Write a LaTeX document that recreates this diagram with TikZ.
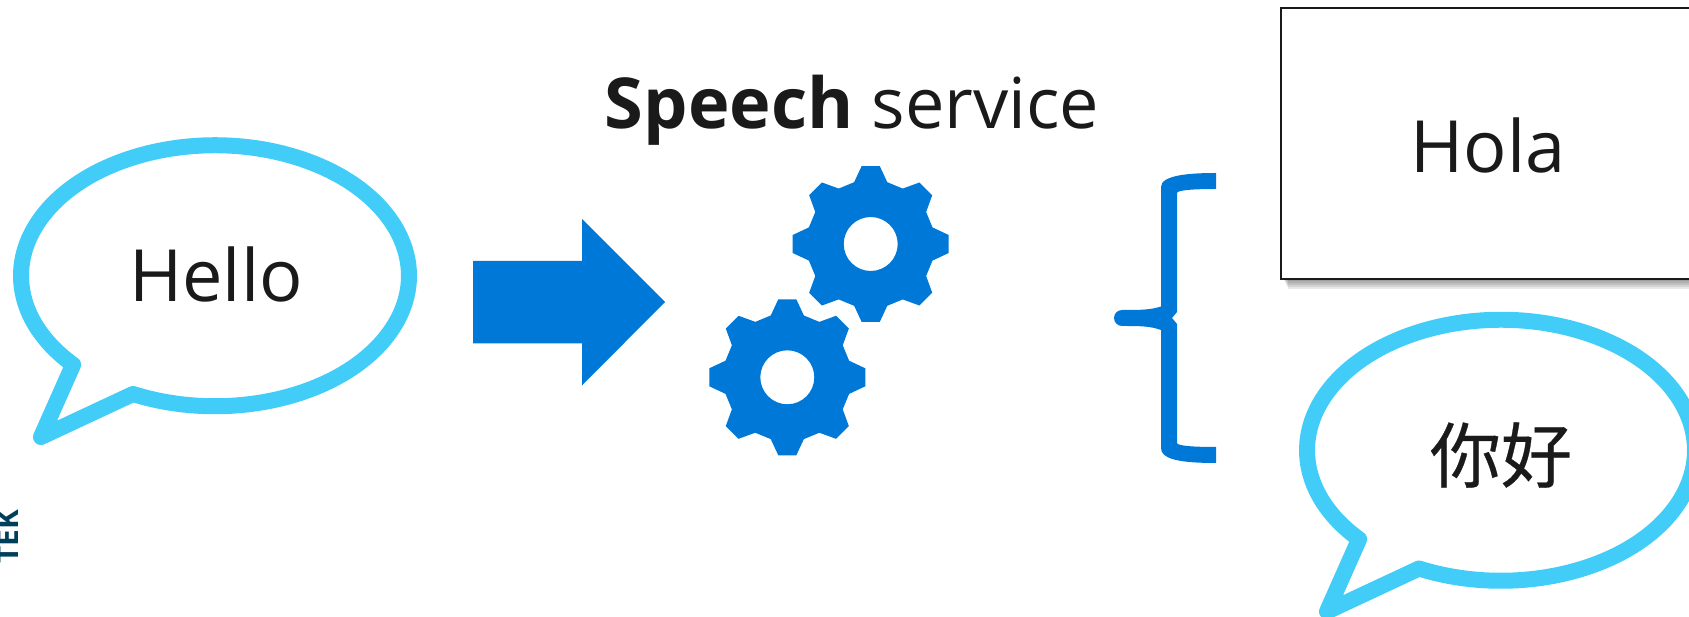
\documentclass[tikz,border=0pt]{standalone}
\usepackage{fontspec}
\setmainfont{Open Sans}
\newfontfamily\cjkfont[FakeBold=0.4]{Noto Sans CJK SC}
\usepackage{xcolor}
\usetikzlibrary{positioning, arrows.meta}
\definecolor{bubbleblue}{HTML}{41CDF8}
\definecolor{servblue}{HTML}{0078D7}
\definecolor{inkgray}{HTML}{1A1A1A}
\definecolor{tekteal}{HTML}{003F5C}

\begin{document}
\begin{tikzpicture}[
    x=0.02cm, y=0.02cm, yscale=-1,
    % Text inside the shapes
    label/.style={
        text=inkgray,
        inner sep=0pt,
        font=\fontsize{41}{50}\selectfont
    },
    % Speech bubble with its tail
    pics/bubble/.style={
        code={
            \draw [draw=bubbleblue, line width=0.32cm, line join=round]
                (-82,119.5) arc [start angle=115, end angle=-223, x radius=3.88cm, y radius=2.61cm]
                -- (-174,162.5) -- cycle;
        }
    },
    % Gear with eight teeth
    pics/gear/.style={
        code={
            \fill [servblue, even odd rule]
                (-15:64) \foreach \a in {0,45,...,315} {
                    -- (\a-15:64) -- (\a-6.6:78.5) -- (\a+6.6:78.5) -- (\a+15:64)
                } -- cycle
                (0,0) circle [radius=0.54cm];
        }
    }
]
\clip (0,0) rectangle (1689,617);
\useasboundingbox (0,0) rectangle (1689,617);

% Incoming speech
\pic [transform shape] at (215,274.5) {bubble};
\node (hello) [label] at (216,274) {Hello};

% Arrow into the service
\fill [servblue] (473,261) -- (582,261) -- (582,219) -- (665,302) -- (582,385.5)
    -- (582,343.5) -- (473,343.5) -- cycle;

% Service title and gears
\node (title) [label, anchor=base, font=\fontsize{40}{50}\selectfont] at (852,129) {\textbf{Speech} service};
\pic at (870.7,244) {gear};
\pic at (787.3,377.3) {gear};

% Brace
\fill [servblue] (1216,173) .. controls (1190,173) and (1161,175) .. (1161,187)
    -- (1161,306.5) .. controls (1150,310) and (1140,310) .. (1122,310)
    arc [start angle=-90, end angle=-270, radius=0.16cm]
    .. controls (1140,326) and (1150,326) .. (1161,330)
    -- (1161,448) .. controls (1161,458) and (1175,463) .. (1216,463)
    -- (1216,447) .. controls (1195,447) and (1177,446) .. (1177,443)
    -- (1177,324) -- (1172,318) -- (1177,312)
    -- (1177,193) .. controls (1177,190) and (1195,189) .. (1216,189) -- cycle;

% Translated text
\foreach \i in {1,...,5} {
    \fill [black, opacity=0.09] (1283+\i,20) rectangle (1720,279+2*\i);
}
\node (hola) [label, draw=inkgray, line width=0.04cm, fill=white, minimum width=8.28cm, minimum height=5.42cm, text height=33pt, text depth=0pt] at (1488,143.5) {Hola};

% Translated speech
\pic [transform shape] at (1501,449) {bubble};
\node (nihao) [label, font=\cjkfont\fontsize{40.5}{48}\selectfont] at (1501,455) {你好};

% Clipped side label
\node (tek) [anchor=base west, rotate=90, inner sep=0pt, text=tekteal, font=\fontsize{17}{20}\selectfont\bfseries] at (18,564) {TEK};

\end{tikzpicture}
\end{document}
